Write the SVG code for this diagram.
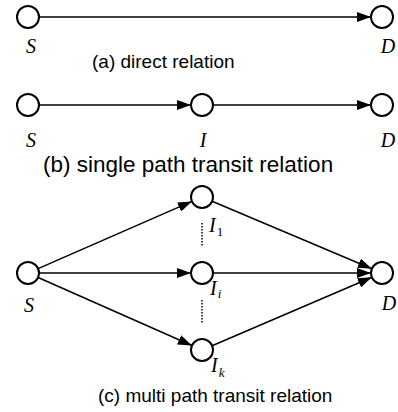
<svg xmlns="http://www.w3.org/2000/svg" width="398" height="412" viewBox="0 0 398 412">
<defs>
<marker id="arr" markerUnits="userSpaceOnUse" markerWidth="14" markerHeight="10" refX="14" refY="5" orient="auto" viewBox="0 0 14 10">
<path d="M0,0 L14,5 L0,10 z" fill="#000"/>
</marker>
<style>
.n{fill:#fff;stroke:#000;stroke-width:2}
.e{stroke:#000;stroke-width:1.5;fill:none}
.a{marker-end:url(#arr)}
.d{stroke:#000;stroke-width:1.5;stroke-dasharray:1.5,1.5}
.l{font-family:"Liberation Serif","Times New Roman",serif;font-style:italic;font-size:20px;fill:#000}
.s{font-size:13px}
.u{font-style:normal}
.c{font-family:"Liberation Sans",Arial,sans-serif;font-size:19px;fill:#000}
</style>
</defs>
<rect width="398" height="412" fill="#fff"/>
<g id="connectors">
<line class="e a" x1="39" y1="17" x2="371" y2="17"/>
<line class="e a" x1="39" y1="105" x2="191" y2="105"/>
<line class="e a" x1="213" y1="105" x2="371" y2="105"/>
<line class="e a" x1="38.1" y1="268.6" x2="191.9" y2="201.4"/>
<line class="e a" x1="39" y1="273" x2="191" y2="273"/>
<line class="e a" x1="38.1" y1="277.5" x2="191.9" y2="345.5"/>
<line class="e a" x1="212.1" y1="201.3" x2="371.9" y2="268.7"/>
<line class="e a" x1="213" y1="273" x2="371" y2="273"/>
<line class="e a" x1="212.1" y1="345.7" x2="371.9" y2="277.3"/>
<line class="d" x1="202" y1="223" x2="202" y2="247"/>
<line class="d" x1="202" y1="300" x2="202" y2="323"/>
</g>
<g id="a-S"><circle class="n" cx="28" cy="17" r="11"/><text class="l" x="31" y="53" text-anchor="middle">S</text></g>
<g id="a-D"><circle class="n" cx="382" cy="17" r="11"/><text class="l" x="388" y="53" text-anchor="middle">D</text></g>
<text class="c" x="92" y="68">(a) direct relation</text>
<g id="b-S"><circle class="n" cx="28" cy="105" r="11"/><text class="l" x="31" y="147" text-anchor="middle">S</text></g>
<g id="b-I"><circle class="n" cx="202" cy="105" r="11"/><text class="l" x="203" y="147" text-anchor="middle">I</text></g>
<g id="b-D"><circle class="n" cx="382" cy="105" r="11"/><text class="l" x="388" y="147" text-anchor="middle">D</text></g>
<text class="c" x="43" y="172" style="font-size:22.5px">(b) single path transit relation</text>
<g id="c-S"><circle class="n" cx="28" cy="273" r="11"/><text class="l" x="29" y="312" text-anchor="middle">S</text></g>
<g id="c-I1"><circle class="n" cx="202" cy="197" r="11"/><text class="l" x="209" y="232">I<tspan class="s u" dx="1" dy="4">1</tspan></text></g>
<g id="c-Ii"><circle class="n" cx="202" cy="273" r="11"/><text class="l" x="210" y="295">I<tspan class="s" dx="1" dy="3">i</tspan></text></g>
<g id="c-Ik"><circle class="n" cx="202" cy="350" r="11"/><text class="l" x="211" y="372">I<tspan class="s" dx="1" dy="5">k</tspan></text></g>
<g id="c-D"><circle class="n" cx="382" cy="273" r="11"/><text class="l" x="389" y="310" text-anchor="middle">D</text></g>
<text class="c" x="98" y="402">(c) multi path transit relation</text>
</svg>
